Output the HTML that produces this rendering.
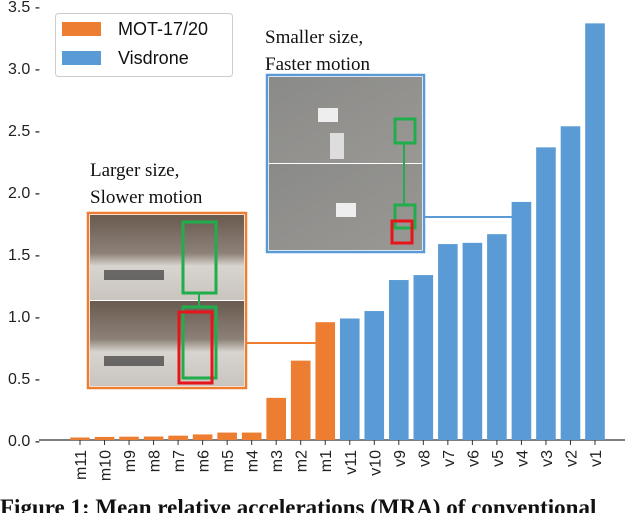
<!DOCTYPE html>
<html><head><meta charset="utf-8"><style>
body{margin:0;background:#fff;width:640px;height:513px;overflow:hidden}
svg{display:block}
</style></head><body>
<svg id="c" width="640" height="513" xmlns="http://www.w3.org/2000/svg">
<defs>
<linearGradient id="mall" x1="0" y1="0" x2="0" y2="1"><stop offset="0" stop-color="#6a5a50"/><stop offset="0.45" stop-color="#8d8278"/><stop offset="0.6" stop-color="#d8d4cf"/><stop offset="1" stop-color="#c9c4be"/></linearGradient>
<linearGradient id="road" x1="0" y1="0" x2="1" y2="1"><stop offset="0" stop-color="#8a8a88"/><stop offset="1" stop-color="#9a9894"/></linearGradient>
</defs>
<g id="axes"></g>
<g id="bars"></g>
<g id="insets">
  <line x1="247" y1="343" x2="318" y2="343" stroke="#ed7d31" stroke-width="2"/>
  <line x1="425" y1="217" x2="512" y2="217" stroke="#5b9bd5" stroke-width="2"/>
  <g>
    <rect x="88" y="213" width="158" height="175" fill="#fff" stroke="#ed7d31" stroke-width="2.5"/>
    <rect x="90" y="215" width="154" height="85" fill="url(#mall)"/>
    <rect x="90" y="301" width="154" height="85" fill="url(#mall)"/>
    <rect x="104" y="270" width="60" height="10" fill="#3a3a3a" opacity="0.7"/>
    <rect x="104" y="356" width="60" height="10" fill="#3a3a3a" opacity="0.7"/>
    <rect x="183" y="222" width="33" height="71" fill="none" stroke="#1fae4b" stroke-width="3"/>
    <line x1="199" y1="293" x2="199" y2="307" stroke="#1fae4b" stroke-width="2"/>
    <rect x="183" y="307" width="33" height="71" fill="none" stroke="#1fae4b" stroke-width="3"/>
    <rect x="179" y="312" width="33" height="71" fill="none" stroke="#e8141c" stroke-width="3"/>
  </g>
  <g>
    <rect x="267" y="75" width="157" height="177" fill="#fff" stroke="#5b9bd5" stroke-width="2.5"/>
    <rect x="269" y="77" width="153" height="86" fill="url(#road)"/>
    <rect x="269" y="164" width="153" height="86" fill="url(#road)"/>
    <rect x="318" y="108" width="20" height="14" fill="#eee"/><rect x="330" y="133" width="14" height="26" fill="#ddd"/>
    <rect x="336" y="203" width="20" height="14" fill="#eee"/>
    <rect x="395" y="119" width="20" height="24" fill="none" stroke="#1fae4b" stroke-width="3"/>
    <line x1="404" y1="143" x2="404" y2="205" stroke="#1fae4b" stroke-width="2"/>
    <rect x="395" y="205" width="20" height="23" fill="none" stroke="#1fae4b" stroke-width="3"/>
    <rect x="392" y="221" width="20" height="22" fill="none" stroke="#e8141c" stroke-width="3"/>
  </g>
  <text x="90" y="176" font-family="Liberation Serif, serif" font-size="19" fill="#111">Larger size,</text>
  <text x="90" y="203" font-family="Liberation Serif, serif" font-size="19" fill="#111">Slower motion</text>
  <text x="265" y="43" font-family="Liberation Serif, serif" font-size="19" fill="#111">Smaller size,</text>
  <text x="265" y="70" font-family="Liberation Serif, serif" font-size="19" fill="#111">Faster motion</text>
</g>
<g>
  <rect x="55.5" y="13.5" width="177" height="63" rx="3" fill="#fff" stroke="#ccc"/>
  <rect x="62" y="22" width="39" height="14" fill="#ed7d31"/>
  <text x="118" y="35" font-family="Liberation Sans, sans-serif" font-size="18" fill="#111">MOT-17/20</text>
  <rect x="62" y="51" width="39" height="14" fill="#5b9bd5"/>
  <text x="118" y="64" font-family="Liberation Sans, sans-serif" font-size="18" fill="#111">Visdrone</text>
</g>
<text x="0" y="515" font-family="Liberation Serif, serif" font-weight="bold" font-size="23" fill="#111">Figure 1: Mean relative accelerations (MRA) of conventional</text>
</svg>
<script>
const categories=["m11","m10","m9","m8","m7","m6","m5","m4","m3","m2","m1","v11","v10","v9","v8","v7","v6","v5","v4","v3","v2","v1"];
const values=[0.02,0.025,0.027,0.028,0.035,0.045,0.06,0.06,0.34,0.64,0.95,0.98,1.04,1.29,1.33,1.58,1.59,1.66,1.92,2.36,2.53,3.36];
const groups=["mot","mot","mot","mot","mot","mot","mot","mot","mot","mot","mot","vis","vis","vis","vis","vis","vis","vis","vis","vis","vis","vis"];
const yTicks=[0,0.5,1.0,1.5,2.0,2.5,3.0,3.5];
const yTickLabels=["0.0","0.5","1.0","1.5","2.0","2.5","3.0","3.5"];
const NS="http://www.w3.org/2000/svg";
const y=v=>440-v*124;
const x=i=>80+i*(595-80)/(categories.length-1);
const bw=19.6;
const axes=document.getElementById('axes'),bars=document.getElementById('bars');
function mk(t,a,p){const e=document.createElementNS(NS,t);for(const k in a)e.setAttribute(k,a[k]);p.appendChild(e);return e;}
const base=mk('line',{x1:39,y1:440,x2:625,y2:440,stroke:'#333','stroke-width':1.2},axes);


yTicks.forEach((v,i)=>{
  const t=mk('text',{x:8,y:y(v)+6,'font-family':'Liberation Sans, sans-serif','font-size':16,fill:'#222'},axes);
  t.textContent=yTickLabels[i]+" -";
  
  
});
categories.forEach((c,i)=>{
  const r=mk('rect',{x:x(i)-bw/2,y:y(values[i]),width:bw,height:440-y(values[i]),fill:groups[i]==='mot'?'#ed7d31':'#5b9bd5'},bars);
  
  
  mk('line',{x1:x(i),y1:440,x2:x(i),y2:445,stroke:'#333'},axes);
  const t=mk('text',{x:x(i)+6,y:450,'font-family':'Liberation Sans, sans-serif','font-size':16,fill:'#222','text-anchor':'end',transform:`rotate(-90 ${x(i)+6} 450)`},axes);
  t.textContent=c;
  
  
});
</script>
</body></html>
